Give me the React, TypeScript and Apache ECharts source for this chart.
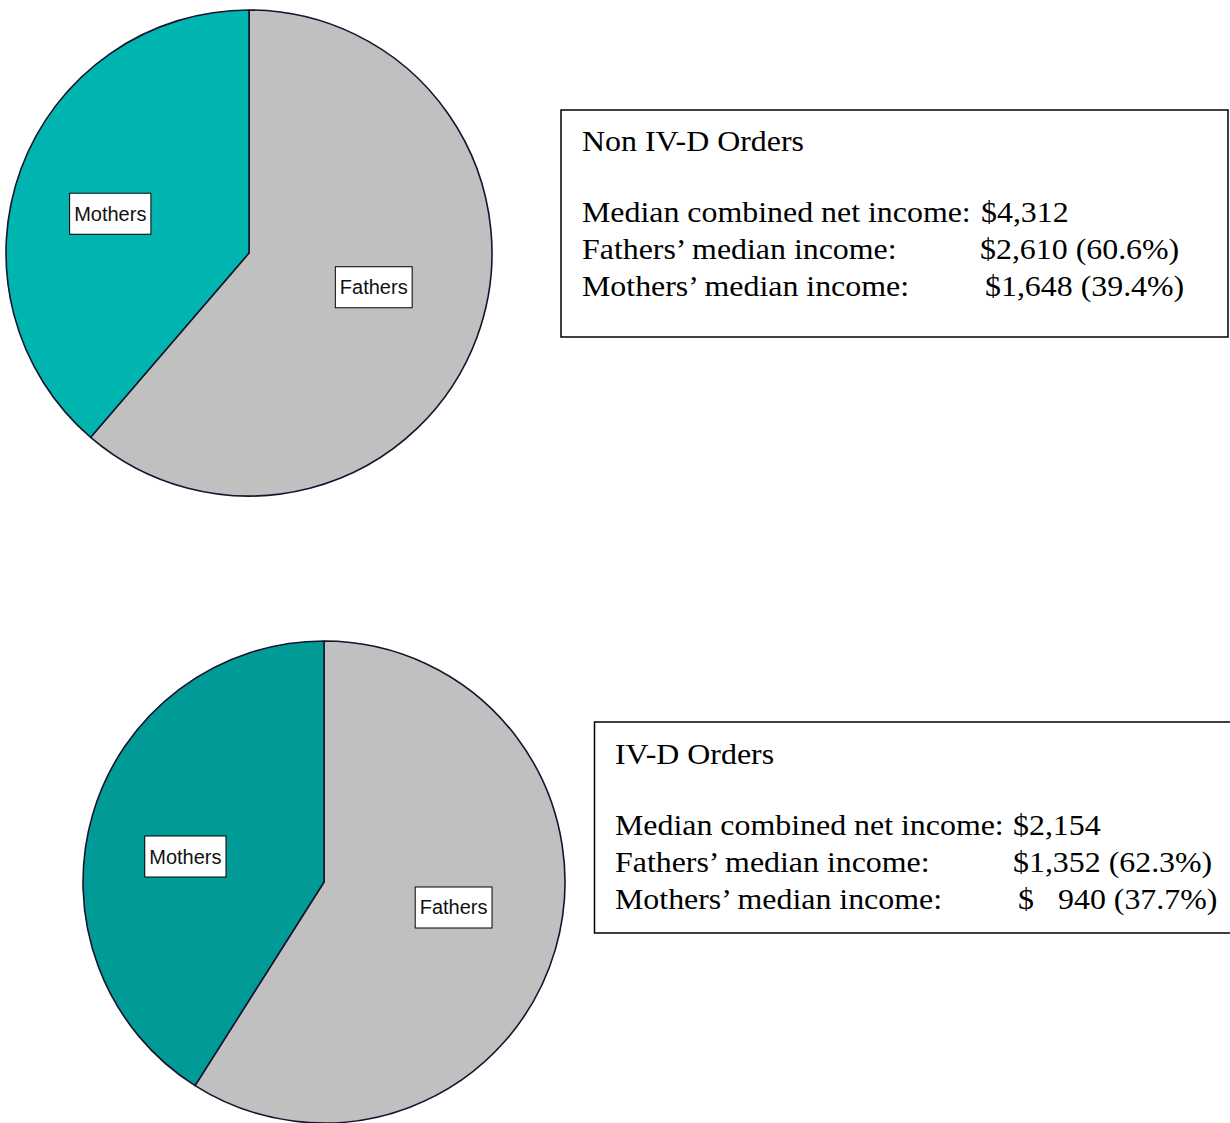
import React, { useEffect, useRef } from "react";
import * as echarts from "echarts";

const categories = ["Fathers", "Mothers"];
const nonIVDIncome = [2610, 1648];
const nonIVDShare = ["60.6%", "39.4%"];
const nonIVDCombined = 4312;
const ivdIncome = [1352, 940];
const ivdShare = ["62.3%", "37.7%"];
const ivdCombined = 2154;

const fmt = (v: number) => v.toLocaleString("en-US");

const SERIF = "'Liberation Serif', 'Times New Roman', serif";
const SANS = "'Liberation Sans', Arial, sans-serif";

function txt(x: number, y: number, text: string) {
  return {
    type: "text",
    x,
    y,
    scaleX: 1.1,
    silent: true,
    style: {
      text,
      fontSize: 29,
      fontFamily: SERIF,
      fill: "#000",
      verticalAlign: "middle",
      align: "left",
    },
  };
}

function pieSeries(
  values: number[],
  center: number[],
  radius: number,
  motherColor: string,
  labelShift: { dx: number; dy: number }[]
) {
  return {
    type: "pie",
    center,
    radius,
    startAngle: 90,
    clockwise: true,
    avoidLabelOverlap: false,
    silent: true,
    itemStyle: { borderColor: "#14142e", borderWidth: 1.6 },
    label: {
      show: true,
      position: "inside",
      formatter: "{b}",
      color: "#111",
      fontSize: 20,
      fontFamily: SANS,
      backgroundColor: "#fff",
      borderColor: "#000",
      borderWidth: 1,
      padding: [9, 4, 9, 4],
      lineHeight: 22,
    },
    labelLayout: (p: any) => labelShift[p.dataIndex],
    data: categories.map((c, i) => ({
      name: c,
      value: values[i],
      itemStyle: { color: i === 0 ? "#C0C0C0" : motherColor },
    })),
  };
}

export default function App() {
  const ref = useRef<HTMLDivElement>(null);
  useEffect(() => {
    document.body.style.margin = "0";
    const chart = echarts.init(ref.current!, null, { renderer: "svg" });
    const box1 = [
      txt(582, 141.5, "Non IV-D Orders"),
      txt(582, 212.5, "Median combined net income:"),
      txt(981, 212.5, `$${fmt(nonIVDCombined)}`),
      txt(582, 249.5, "Fathers\u2019 median income:"),
      txt(980, 249.5, `$${fmt(nonIVDIncome[0])} (${nonIVDShare[0]})`),
      txt(582, 286.5, "Mothers\u2019 median income:"),
      txt(985, 286.5, `$${fmt(nonIVDIncome[1])} (${nonIVDShare[1]})`),
    ];
    const box2 = [
      txt(615, 754.5, "IV-D Orders"),
      txt(615, 825.5, "Median combined net income:"),
      txt(1013, 825.5, `$${fmt(ivdCombined)}`),
      txt(615, 862.5, "Fathers\u2019 median income:"),
      txt(1013, 862.5, `$${fmt(ivdIncome[0])} (${ivdShare[0]})`),
      txt(615, 899.5, "Mothers\u2019 median income:"),
      txt(1018, 899.5, "$"),
      txt(1058, 899.5, `${fmt(ivdIncome[1])} (${ivdShare[1]})`),
    ];
    chart.setOption({
      animation: false,
      backgroundColor: "#fff",
      series: [
        pieSeries(nonIVDIncome, [249, 253], 243, "#00B5B0", [
          { dx: 8, dy: -9 },
          { dx: -22, dy: 4 },
        ]),
        pieSeries(ivdIncome, [324, 882], 241, "#009B96", [
          { dx: 11, dy: -9 },
          { dx: -20, dy: 9 },
        ]),
      ],
      graphic: [
        {
          type: "rect",
          silent: true,
          shape: { x: 561, y: 110, width: 667, height: 227 },
          style: { fill: "#fff", stroke: "#000", lineWidth: 1.5 },
        },
        {
          type: "rect",
          silent: true,
          shape: { x: 594.5, y: 722, width: 660, height: 211 },
          style: { fill: "#fff", stroke: "#000", lineWidth: 1.5 },
        },
        ...box1,
        ...box2,
      ],
    });
    return () => chart.dispose();
  }, []);
  return <div ref={ref} style={{ width: 1230, height: 1123 }} />;
}
